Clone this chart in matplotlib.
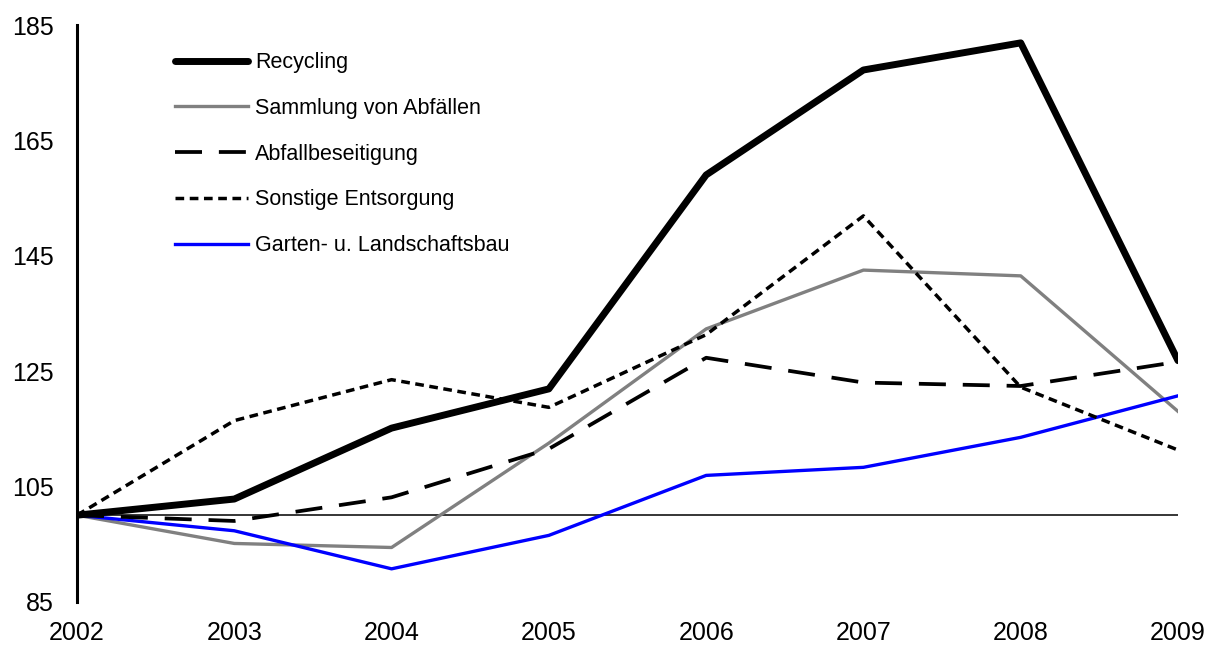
import matplotlib
matplotlib.use("Agg")
import matplotlib.pyplot as plt

years = [2002, 2003, 2004, 2005, 2006, 2007, 2008, 2009]
recycling = [100, 102.8, 115.1, 121.9, 159.0, 177.2, 181.9, 126.8]
sammlung = [100, 95.1, 94.4, 112.5, 132.3, 142.5, 141.5, 118.0]
abfallbeseitigung = [100, 99.0, 103.1, 111.5, 127.3, 123.0, 122.4, 126.6]
sonstige = [100, 116.4, 123.5, 118.7, 131.3, 151.9, 122.2, 111.3]
garten = [100, 97.3, 90.7, 96.5, 106.9, 108.3, 113.5, 120.7]

labels = ["Recycling", "Sammlung von Abfällen", "Abfallbeseitigung",
          "Sonstige Entsorgung", "Garten- u. Landschaftsbau"]
yticks = [85, 105, 125, 145, 165, 185]

plt.rcParams['font.family'] = ['Liberation Sans', 'DejaVu Sans']

fig = plt.figure(figsize=(12.09, 6.45), dpi=100)
ax = fig.add_axes([77 / 1209, 1 - 601.7 / 645, (1178 - 77) / 1209, (601.7 - 25) / 645])

ax.axhline(100, color='black', lw=1.1, zorder=1)

ax.plot(years, recycling, color='black', lw=5.0, solid_capstyle='round',
        label=labels[0], zorder=5)
ax.plot(years, sammlung, color='#808080', lw=2.4, label=labels[1], zorder=3)
ax.plot(years, abfallbeseitigung, color='black', lw=2.7, dashes=(7.2, 4.5),
        label=labels[2], zorder=4)
ax.plot(years, sonstige, color='black', lw=2.5, dashes=(2.5, 1.6),
        label=labels[3], zorder=4)
ax.plot(years, garten, color='#0000FF', lw=2.4, label=labels[4], zorder=3)

ax.set_xlim(2002, 2009)
ax.set_ylim(85, 185)
ax.set_yticks(yticks)
ax.set_xticks(years)
ax.set_xticklabels([str(y) for y in years])
ax.tick_params(axis='both', length=0, labelsize=18)
ax.tick_params(axis='y', pad=17)
ax.tick_params(axis='x', pad=14)

for s in ['top', 'right', 'bottom']:
    ax.spines[s].set_visible(False)
ax.spines['left'].set_linewidth(2.2)
ax.spines['left'].set_zorder(6)

leg = ax.legend(loc='upper left', bbox_to_anchor=(0.089, 0.953), frameon=False,
                fontsize=15.5, handlelength=3.4, handletextpad=0.33,
                labelspacing=1.15, borderpad=0, borderaxespad=0)

fig.savefig("out.png", dpi=100)
